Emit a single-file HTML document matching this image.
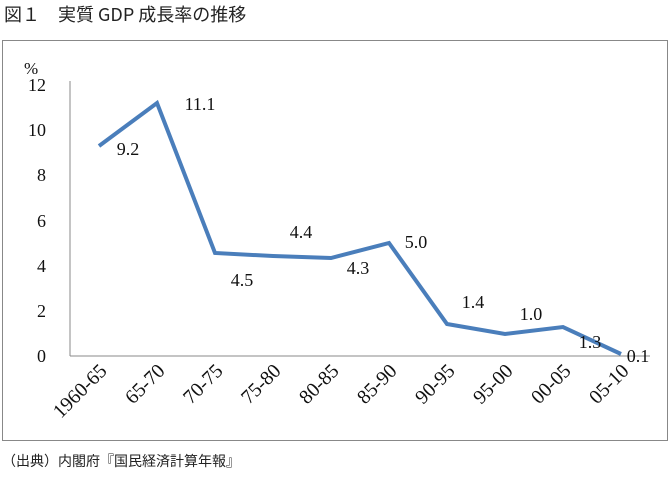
<!DOCTYPE html>
<html><head><meta charset="utf-8"><style>
body{margin:0;width:670px;height:472px;background:#fff;overflow:hidden}
</style></head><body>
<svg width="670" height="472" xmlns="http://www.w3.org/2000/svg">
<text x="4" y="21" font-family="'Noto Sans CJK JP',sans-serif" font-size="18" fill="#222">図１　実質 GDP 成長率の推移</text>
<rect x="2.5" y="40.5" width="665" height="400" fill="none" stroke="#888" stroke-width="1"/>
<line x1="70" y1="81" x2="70" y2="356" stroke="#888"/>
<line x1="70" y1="356" x2="650" y2="356" stroke="#888"/>
<g font-family="'Liberation Serif',serif" font-size="18" fill="#111" text-anchor="end">
<text x="46" y="91">12</text><text x="46" y="136">10</text><text x="46" y="181">8</text>
<text x="46" y="227">6</text><text x="46" y="272">4</text><text x="46" y="317">2</text><text x="46" y="362">0</text>
</g>
<text x="24" y="74" font-family="'Liberation Serif',serif" font-size="17" fill="#111">%</text>
<polyline fill="none" stroke="#4a7ebb" stroke-width="4" stroke-linejoin="miter" points="99,146 157,103 215,253 273,256 331,258 389,243 447,324 505,334 563,327 621,354"/>
<g font-family="'Liberation Serif',serif" font-size="18" fill="#111" text-anchor="middle">
<text x="128" y="155">9.2</text><text x="200" y="110">11.1</text><text x="242" y="286">4.5</text>
<text x="301" y="238">4.4</text><text x="358" y="274">4.3</text><text x="416" y="248">5.0</text>
<text x="473" y="308">1.4</text><text x="531" y="320">1.0</text><text x="590" y="348">1.3</text>
<text x="638" y="362">0.1</text>
</g>
<g font-family="'Liberation Serif',serif" font-size="20" fill="#111" text-anchor="end">
<text transform="translate(108,372) rotate(-45)">1960-65</text>
<text transform="translate(166,372) rotate(-45)">65-70</text>
<text transform="translate(224,372) rotate(-45)">70-75</text>
<text transform="translate(282,372) rotate(-45)">75-80</text>
<text transform="translate(340,372) rotate(-45)">80-85</text>
<text transform="translate(398,372) rotate(-45)">85-90</text>
<text transform="translate(456,372) rotate(-45)">90-95</text>
<text transform="translate(514,372) rotate(-45)">95-00</text>
<text transform="translate(572,372) rotate(-45)">00-05</text>
<text transform="translate(630,372) rotate(-45)">05-10</text>
</g>
<text x="2" y="466" font-family="'Noto Sans CJK JP',sans-serif" font-size="14" fill="#222">（出典）内閣府『国民経済計算年報』</text>
</svg>
</body></html>
